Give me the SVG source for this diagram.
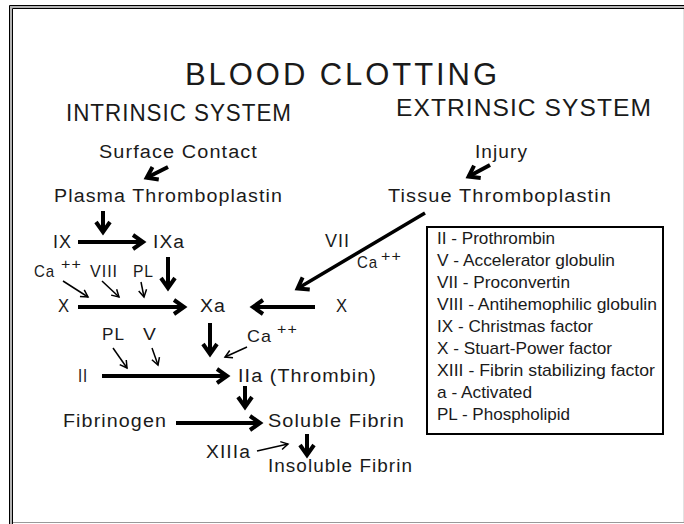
<svg xmlns="http://www.w3.org/2000/svg" width="684" height="524" viewBox="0 0 684 524">
<defs>
<style>
text{font-family:"Liberation Sans",Arial,Helvetica,sans-serif;fill:#1a1a1a;}
.m{font-size:18px;letter-spacing:1px;}
.s{font-size:17px;letter-spacing:1px;}
.sup{font-size:14px;letter-spacing:1px;}
.lg{font-size:17px;}
.thick{stroke:#000;stroke-width:4;fill:none;marker-end:url(#hk);}
.thin{stroke:#000;stroke-width:1.5;fill:none;marker-end:url(#hn);}
</style>
<marker id="hk" markerUnits="userSpaceOnUse" markerWidth="30" markerHeight="30" orient="auto" overflow="visible">
<path d="M-10,-7 L0,0 L-10,7" fill="none" stroke="#000" stroke-width="4" stroke-miterlimit="10"/>
</marker>
<marker id="hn" markerUnits="userSpaceOnUse" markerWidth="20" markerHeight="20" orient="auto" overflow="visible">
<path d="M-7,-4 L0,0 L-7,4" fill="none" stroke="#000" stroke-width="1.5" stroke-miterlimit="10"/>
</marker>
</defs>
<rect width="684" height="524" fill="#fff"/>
<g id="frame" fill="none">
<path d="M9.5,524 V5.5 H684" stroke="#000" stroke-width="1"/>
<path d="M11,524 V7 H684" stroke="#b4b4b4" stroke-width="2"/>
<path d="M12.5,524 V8.5 H684" stroke="#000" stroke-width="1"/>
<path d="M13,522.5 H684" stroke="#999" stroke-width="1"/>
<path d="M683.5,9 V522" stroke="#e2e2e2" stroke-width="1"/>
</g>
<g id="title">
<text x="185" y="85" style="font-size:31px" textLength="312" lengthAdjust="spacing">BLOOD CLOTTING</text>
<text x="66" y="121" style="font-size:23px;letter-spacing:1px" textLength="226" lengthAdjust="spacingAndGlyphs">INTRINSIC SYSTEM</text>
<text x="396" y="116" style="font-size:23px;letter-spacing:1px" textLength="256" lengthAdjust="spacingAndGlyphs">EXTRINSIC SYSTEM</text>
</g>
<g id="connectors">
<path class="thick" d="M168,167 L146.7,177.7"/>
<path class="thick" d="M490,165 L468.6,176.6"/>
<path class="thick" d="M103,211 V232"/>
<path class="thick" d="M78,242 H143"/>
<path class="thick" d="M168,257 V288"/>
<path class="thick" d="M78,307 H184"/>
<path class="thick" style="stroke-width:3.5" d="M425,213 L297.6,288.5"/>
<path class="thick" d="M315,307 H253"/>
<path class="thick" d="M210,323 V354"/>
<path class="thick" d="M102,376 H227"/>
<path class="thick" d="M245,386 V407"/>
<path class="thick" d="M176,423 H260"/>
<path class="thick" d="M307,434 V455"/>
<path class="thin" d="M63,281 L88,297"/>
<path class="thin" d="M102,281 L119,297"/>
<path class="thin" d="M141,282 L144,297"/>
<path class="thin" d="M247,347 L225,357"/>
<path class="thin" d="M113,348 L127,368"/>
<path class="thin" d="M152,348 L158,365"/>
<path class="thin" d="M257,451 L288,444"/>
</g>
<g id="surface-contact"><text class="m" x="99" y="158" textLength="159" lengthAdjust="spacingAndGlyphs">Surface Contact</text></g>
<g id="plasma-thromboplastin"><text class="m" x="54" y="202" textLength="229" lengthAdjust="spacingAndGlyphs">Plasma Thromboplastin</text></g>
<g id="injury"><text class="m" x="475" y="158" textLength="53" lengthAdjust="spacingAndGlyphs">Injury</text></g>
<g id="tissue-thromboplastin"><text class="m" x="388" y="202" textLength="224" lengthAdjust="spacingAndGlyphs">Tissue Thromboplastin</text></g>
<g id="ix"><text class="m" x="53" y="248" textLength="19" lengthAdjust="spacingAndGlyphs">IX</text></g>
<g id="ixa"><text class="m" x="153" y="248" textLength="32" lengthAdjust="spacingAndGlyphs">IXa</text></g>
<g id="cofactors-x">
<text class="s" x="34" y="277" textLength="21" lengthAdjust="spacingAndGlyphs">Ca</text>
<text class="sup" x="61" y="269" textLength="21" lengthAdjust="spacingAndGlyphs">++</text>
<text class="s" x="90" y="277" textLength="28" lengthAdjust="spacingAndGlyphs">VIII</text>
<text class="s" x="133" y="277" textLength="21" lengthAdjust="spacingAndGlyphs">PL</text>
</g>
<g id="x-left"><text class="m" x="58" y="312" textLength="12" lengthAdjust="spacingAndGlyphs">X</text></g>
<g id="xa"><text class="m" x="200" y="312" textLength="26" lengthAdjust="spacingAndGlyphs">Xa</text></g>
<g id="x-right"><text class="m" x="336" y="312" textLength="12" lengthAdjust="spacingAndGlyphs">X</text></g>
<g id="vii-ca">
<text class="m" x="325" y="247" textLength="25" lengthAdjust="spacingAndGlyphs">VII</text>
<text class="s" x="357" y="268" textLength="21" lengthAdjust="spacingAndGlyphs">Ca</text>
<text class="sup" x="381" y="261" textLength="21" lengthAdjust="spacingAndGlyphs">++</text>
</g>
<g id="ca-lower">
<text class="s" x="247" y="342" textLength="25" lengthAdjust="spacingAndGlyphs">Ca</text>
<text class="sup" x="277" y="334" textLength="21" lengthAdjust="spacingAndGlyphs">++</text>
</g>
<g id="pl-v">
<text class="s" x="102" y="340" textLength="23" lengthAdjust="spacingAndGlyphs">PL</text>
<text class="s" x="143" y="340" textLength="14" lengthAdjust="spacingAndGlyphs">V</text>
</g>
<g id="ii"><text class="m" x="78" y="382" textLength="10" lengthAdjust="spacingAndGlyphs">II</text></g>
<g id="iia"><text class="m" x="238" y="382" textLength="139" lengthAdjust="spacingAndGlyphs">IIa (Thrombin)</text></g>
<g id="fibrinogen"><text class="m" x="63" y="427" textLength="104" lengthAdjust="spacingAndGlyphs">Fibrinogen</text></g>
<g id="soluble-fibrin"><text class="m" x="268" y="427" textLength="137" lengthAdjust="spacingAndGlyphs">Soluble Fibrin</text></g>
<g id="xiiia"><text class="m" x="206" y="458" textLength="45" lengthAdjust="spacingAndGlyphs">XIIIa</text></g>
<g id="insoluble-fibrin"><text class="m" x="268" y="472" textLength="145" lengthAdjust="spacingAndGlyphs">Insoluble Fibrin</text></g>
<g id="legend">
<rect x="427" y="227" width="236" height="207" fill="none" stroke="#000" stroke-width="2"/>
<text class="lg" x="437" y="244" textLength="118" lengthAdjust="spacingAndGlyphs">II - Prothrombin</text>
<text class="lg" x="437" y="266" textLength="178" lengthAdjust="spacingAndGlyphs">V - Accelerator globulin</text>
<text class="lg" x="437" y="288" textLength="133" lengthAdjust="spacingAndGlyphs">VII - Proconvertin</text>
<text class="lg" x="437" y="310" textLength="220" lengthAdjust="spacingAndGlyphs">VIII - Antihemophilic globulin</text>
<text class="lg" x="437" y="332" textLength="156" lengthAdjust="spacingAndGlyphs">IX - Christmas factor</text>
<text class="lg" x="437" y="354" textLength="175" lengthAdjust="spacingAndGlyphs">X - Stuart-Power factor</text>
<text class="lg" x="437" y="376" textLength="218" lengthAdjust="spacingAndGlyphs">XIII - Fibrin stabilizing factor</text>
<text class="lg" x="437" y="398" textLength="95" lengthAdjust="spacingAndGlyphs">a - Activated</text>
<text class="lg" x="437" y="420" textLength="133" lengthAdjust="spacingAndGlyphs">PL - Phospholipid</text>
</g>
</svg>
